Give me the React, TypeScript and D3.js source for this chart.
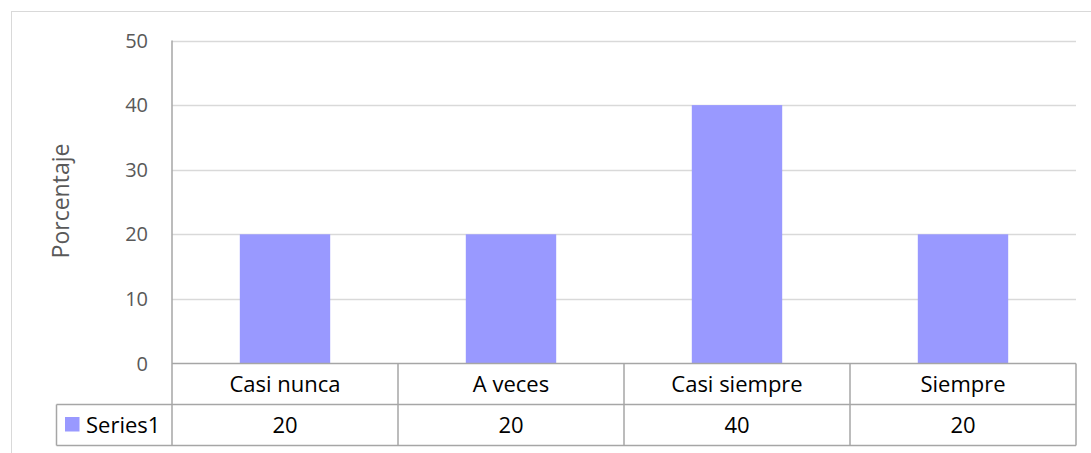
import React from "react";
import * as d3 from "d3";

const categories = ["Casi nunca", "A veces", "Casi siempre", "Siempre"];
const seriesName = "Series1";
const values = [20, 20, 40, 20];
const yTicks = [0, 10, 20, 30, 40, 50];
const yLabel = "Porcentaje";

const W = 1091;
const H = 453;
const left = 172;
const right = 1076;
const top = 40.5;
const zeroY = 363.5;
const rowH = 41;
const legendLeft = 56.5;
const font = "'Open Sans', sans-serif";
const barColor = "#9999FF";
const lineColor = "#a6a6a6";
const gridColor = "#d9d9d9";

export default function App() {
  const x = d3.scaleBand<string>().domain(categories).range([left, right]).padding(0);
  const y = d3.scaleLinear().domain([0, 50]).range([zeroY, top]);
  const bw = x.bandwidth() * 0.4;
  const row1 = zeroY;
  const row2 = zeroY + rowH;
  const row3 = zeroY + 2 * rowH;
  return (
    <svg width={W} height={H} style={{ position: "fixed", left: 0, top: 0, background: "#fff" }}>
      <rect x={11.5} y={11.5} width={W + 10} height={H + 10} fill="#fff" stroke={gridColor} />
      {yTicks.filter((t) => t > 0).map((t) => (
        <line key={t} x1={left} x2={right} y1={Math.round(y(t)) + 0.5} y2={Math.round(y(t)) + 0.5} stroke={gridColor} strokeWidth={1.5} />
      ))}
      {categories.map((c, i) => (
        <rect key={c} x={x(c)! + (x.bandwidth() - bw) / 2} y={y(values[i])} width={bw} height={zeroY - y(values[i])} fill={barColor} />
      ))}
      {yTicks.map((t) => (
        <text key={t} x={148} y={y(t)} dy="0.35em" textAnchor="end" fontFamily={font} fontSize={20} fill="#595959">{t}</text>
      ))}
      <text transform={`translate(69,201) rotate(-90)`} textAnchor="middle" fontFamily={font} fontSize={23} fill="#595959">{yLabel}</text>
      <line x1={left} x2={left} y1={top} y2={row3} stroke={lineColor} strokeWidth={1.5} />
      <line x1={left} x2={right} y1={row1} y2={row1} stroke={lineColor} strokeWidth={1.5} />
      <line x1={legendLeft} x2={right} y1={row2} y2={row2} stroke={lineColor} strokeWidth={1.5} />
      <line x1={legendLeft} x2={right} y1={row3} y2={row3} stroke={lineColor} strokeWidth={1.5} />
      <line x1={legendLeft} x2={legendLeft} y1={row2} y2={row3} stroke={lineColor} strokeWidth={1.5} />
      {categories.map((c) => (
        <line key={c} x1={x(c)! + x.bandwidth()} x2={x(c)! + x.bandwidth()} y1={row1} y2={row3} stroke={lineColor} strokeWidth={1.5} />
      ))}
      {categories.map((c, i) => (
        <g key={c}>
          <text x={x(c)! + x.bandwidth() / 2} y={(row1 + row2) / 2} dy="0.35em" textAnchor="middle" fontFamily={font} fontSize={22} fill="#000">{c}</text>
          <text x={x(c)! + x.bandwidth() / 2} y={(row2 + row3) / 2} dy="0.35em" textAnchor="middle" fontFamily={font} fontSize={22} fill="#000">{values[i]}</text>
        </g>
      ))}
      <rect x={65} y={417} width={14.5} height={14.5} fill={barColor} />
      <text x={86} y={(row2 + row3) / 2} dy="0.35em" fontFamily={font} fontSize={22} fill="#000">{seriesName}</text>
    </svg>
  );
}
